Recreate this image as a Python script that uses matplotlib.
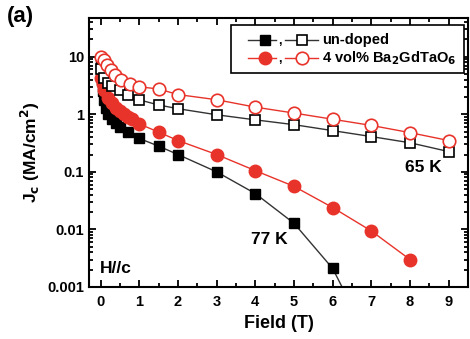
import matplotlib
matplotlib.use("Agg")
import matplotlib.pyplot as plt
from matplotlib.lines import Line2D
from matplotlib.patches import Rectangle
from matplotlib.ticker import LogLocator, MultipleLocator, FixedLocator, NullFormatter

plt.rcParams["font.family"] = ["Liberation Sans", "DejaVu Sans"]
plt.rcParams["font.weight"] = "bold"

RED = "#e8332a"
GREY = "#333333"

# 65 K, un-doped (open squares)
f65_un = [0, 0.1, 0.2, 0.3, 0.5, 0.7, 1, 1.5, 2, 3, 4, 5, 6, 7, 8, 9]
j65_un = [6.0, 4.2, 3.5, 3.1, 2.6, 2.15, 1.78, 1.45, 1.25, 0.98, 0.80, 0.66, 0.52, 0.41, 0.32, 0.225]

# 65 K, 4 vol% Ba2GdTaO6 (open circles)
f65_bgt = [0, 0.08, 0.17, 0.26, 0.38, 0.53, 0.75, 1, 1.5, 2, 3, 4, 5, 6, 7, 8, 9]
j65_bgt = [10.0, 8.9, 7.3, 5.9, 4.9, 4.0, 3.35, 3.0, 2.75, 2.2, 1.79, 1.33, 1.05, 0.82, 0.64, 0.48, 0.35]

# 77 K, un-doped (filled squares)
f77_un = [0, 0.03, 0.06, 0.1, 0.15, 0.2, 0.3, 0.4, 0.5, 0.7, 1, 1.5, 2, 3, 4, 5, 6, 7]
j77_un = [8.0, 4.0, 2.5, 1.8, 1.3, 1.0, 0.82, 0.71, 0.61, 0.5, 0.38, 0.28, 0.2, 0.1, 0.042, 0.0128, 0.0021, 0.0001]

# 77 K, 4 vol% Ba2GdTaO6 (filled circles)
f77_bgt = [0, 0.05, 0.1, 0.2, 0.3, 0.4, 0.5, 0.6, 0.7, 0.8, 1, 1.5, 2, 3, 4, 5, 6, 7, 8]
j77_bgt = [4.3, 3.3, 2.6, 1.9, 1.55, 1.3, 1.15, 1.0, 0.9, 0.82, 0.68, 0.49, 0.35, 0.2, 0.105, 0.056, 0.024, 0.0094, 0.003]

xticks = list(range(0, 10))
yticks = [0.001, 0.01, 0.1, 1, 10]
ytick_labels = ["0.001", "0.01", "0.1", "1", "10"]

fig = plt.figure(figsize=(4.7, 3.39), dpi=100)
ax = fig.add_axes([89 / 470, 52 / 339, 379 / 470, 269 / 339])

ms_sq, ms_ci = 7.5, 9
ax.plot(f65_un, j65_un, color=GREY, lw=1, marker="s", ms=ms_sq, mfc="white", mec="black", mew=1.2, zorder=3)
ax.plot(f65_bgt, j65_bgt, color=RED, lw=1, marker="o", ms=ms_ci, mfc="white", mec=RED, mew=1.2, zorder=3)
ax.plot(f77_un, j77_un, color=GREY, lw=1, marker="s", ms=ms_sq, mfc="black", mec="black", zorder=2)
ax.plot(f77_bgt, j77_bgt, color=RED, lw=1, marker="o", ms=ms_ci, mfc=RED, mec=RED, zorder=2)

ax.set_yscale("log")
ax.set_xlim(-0.3, 9.5)
ax.set_ylim(0.001, 47)
ax.xaxis.set_major_locator(FixedLocator(xticks))
ax.xaxis.set_minor_locator(MultipleLocator(0.5))
ax.yaxis.set_major_locator(FixedLocator(yticks))
ax.set_yticklabels(ytick_labels)
ax.yaxis.set_minor_locator(LogLocator(base=10, subs=range(2, 10), numticks=20))
ax.yaxis.set_minor_formatter(NullFormatter())
ax.tick_params(which="both", direction="in", top=True, right=True, labelsize=10.5, width=1.3)
ax.tick_params(which="major", length=5)
ax.tick_params(which="minor", length=3)
ax.tick_params(axis="x", pad=6)
for s in ax.spines.values():
    s.set_linewidth(1.5)

ax.set_xlabel("Field (T)", fontsize=13, fontweight="bold", labelpad=4)
ax.set_ylabel(r"J$_\mathbf{c}$ (MA/cm$^\mathbf{2}$)", fontsize=12.5, fontweight="bold", labelpad=4)

ax.text(0.835, 0.445, "65 K", transform=ax.transAxes, fontsize=12.5, fontweight="bold", va="center")
ax.text(0.428, 0.178, "77 K", transform=ax.transAxes, fontsize=12.5, fontweight="bold", va="center")
ax.text(0.03, 0.07, "H//c", transform=ax.transAxes, fontsize=12.5, fontweight="bold", va="center")
fig.text(0.015, 0.95, "(a)", fontsize=16, fontweight="bold", va="center")

# hand-built legend box
ax.add_patch(Rectangle((0.375, 0.796), 0.614, 0.178, transform=ax.transAxes,
                       fill=True, facecolor="white", edgecolor="black", lw=1.2, zorder=5))
rows = [
    (0.918, GREY, "black", "black", "s", ms_sq, "un-doped"),
    (0.851, RED, RED, RED, "o", ms_ci, r"4 vol% Ba$_\mathbf{2}$GdTaO$_\mathbf{6}$"),
]
for y, lc, mfc, mec, mk, ms, label in rows:
    ax.add_line(Line2D([0.42, 0.493], [y, y], transform=ax.transAxes, color=lc, lw=1, zorder=6))
    ax.add_line(Line2D([0.464], [y], transform=ax.transAxes, marker=mk, ms=ms, mfc=mfc, mec=mec, zorder=7))
    ax.text(0.5, y - 0.005, ",", transform=ax.transAxes, fontsize=9, fontweight="bold", va="center", zorder=7)
    ax.add_line(Line2D([0.517, 0.604], [y, y], transform=ax.transAxes, color=lc, lw=1, zorder=6))
    ax.add_line(Line2D([0.562], [y], transform=ax.transAxes, marker=mk, ms=ms, mfc="white", mec=mec, mew=1.2, zorder=7))
    ax.text(0.615, y, label, transform=ax.transAxes, fontsize=10.5, fontweight="bold", va="center", zorder=7)

fig.savefig("out.png", dpi=100)
